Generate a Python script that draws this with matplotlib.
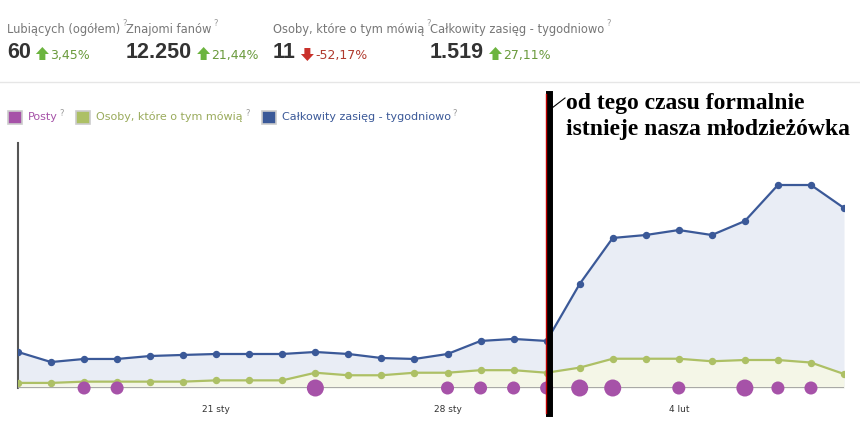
import matplotlib
matplotlib.use('Agg')
import matplotlib.pyplot as plt
from matplotlib.transforms import Affine2D

W, H = 860, 421

# dane z wykresu (15 sty - 9 lut)
zasieg = [304, 219, 245, 245, 270, 279, 287, 287, 287, 304, 287, 253, 245,
          287, 397, 414, 397, 878, 1266, 1291, 1333, 1291, 1409, 1713, 1713, 1519]
mowia = [4, 4, 5, 5, 5, 5, 6, 6, 6, 12, 10, 10, 12,
         12, 14, 14, 12, 16, 23, 23, 23, 21, 22, 22, 20, 11]
posty = [0, 0, 1, 1, 0, 0, 0, 0, 0, 2, 0, 0, 0,
         1, 1, 1, 1, 2, 2, 0, 1, 0, 2, 1, 1, 0]
tick_idx = [6, 13, 20]
tick_labels = ['21 sty', '28 sty', '4 lut']
start_idx = 16.07

kpi_labels = ['Lubiących (ogółem)', 'Znajomi fanów', 'Osoby, które o tym mówią',
              'Całkowity zasięg - tygodniowo']
kpi_values = ['60', '12.250', '11', '1.519']
kpi_changes = [3.45, 21.44, -52.17, 27.11]
kpi_x = [7, 126, 273, 430]

BLUE = '#3b5998'
GREEN = '#adc065'
PURPLE = '#a652a8'

fig = plt.figure(figsize=(W / 100, H / 100), dpi=100)
px = Affine2D().scale(1 / W, -1 / H).translate(0, 1) + fig.transFigure
renderer = fig.canvas.get_renderer()


def put(x, y, s, **kw):
    t = fig.text(x, y, s, transform=px, **kw)
    bb = t.get_window_extent(renderer)
    return bb.x1


def arrow(x0, yc, up, color):
    # strzalka w naglowku, 13x13 px
    d = -1 if up else 1
    pts = [(x0, yc), (x0 + 6.5, yc + 7 * d), (x0 + 13, yc), (x0 + 9.5, yc),
           (x0 + 9.5, yc - 6 * d), (x0 + 3.5, yc - 6 * d), (x0 + 3.5, yc)]
    fig.add_artist(plt.Polygon(pts, closed=True, transform=px,
                               facecolor=color, edgecolor='none'))
    return x0 + 13


# naglowek
for lab, val, ch, x0 in zip(kpi_labels, kpi_values, kpi_changes, kpi_x):
    x1 = put(x0, 29, lab, fontsize=8.3, color='#777777', va='center',
             family='DejaVu Sans')
    put(x1 + 2, 24, '?', fontsize=6, color='#999999', va='center')
    x1 = put(x0, 53, val, fontsize=15.5, fontweight='bold', color='#333333',
             va='center', family='Liberation Sans')
    col = '#6cb43f' if ch > 0 else '#c9312b'
    x1 = arrow(x1 + 5, 54, ch > 0, col)
    txt = f'{ch:.2f}%'.replace('.', ',')
    put(x1 + 1, 55, txt, fontsize=9, color='#6a9a3c' if ch > 0 else '#b03a2e',
        va='center', family='DejaVu Sans')

fig.add_artist(plt.Line2D([0, 1], [1 - 82 / H, 1 - 82 / H],
                          transform=fig.transFigure, color='#e6e6e6', lw=1))

# legenda
leg = [('Posty', PURPLE, PURPLE), ('Osoby, które o tym mówią', GREEN, '#9aab5c'),
       ('Całkowity zasięg - tygodniowo', BLUE, BLUE)]
lx = 8
for name, c, tc in leg:
    fig.add_artist(plt.Rectangle((lx, 111), 14, 13, transform=px, facecolor=c,
                                 edgecolor='#cccccc', lw=1.2))
    x1 = put(lx + 20, 117, name, fontsize=8, color=tc, va='center')
    x1 = put(x1 + 2, 113, '?', fontsize=6, color='#999999', va='center')
    lx = x1 + 12

# wykres
ax = fig.add_axes([18 / W, (H - 388) / H, (844 - 18) / W, (388 - 143) / H])
ax2 = ax.twinx()
x = list(range(len(zasieg)))

ax.fill_between(x, zasieg, 0, color='#e9edf5', lw=0)
ax.plot(x, zasieg, color=BLUE, lw=1.6, marker='o', ms=4.3, zorder=3)
ax.set_ylim(0, 245 * 1519 / 180)

ax2.fill_between(x, mowia, 0, color='#f4f6e7', lw=0)
ax2.plot(x, mowia, color=GREEN, lw=1.6, marker='o', ms=4.3, zorder=3)
ax2.axhline(0, color='#a0a0a0', lw=2, zorder=4)
ax2.set_ylim(0, 245 * 11 / 14)

px_idx = [i for i, p in enumerate(posty) if p > 0]
sizes = [88 if posty[i] == 1 else 150 for i in px_idx]
ax2.scatter(px_idx, [0] * len(px_idx), s=sizes, color=PURPLE, zorder=5,
            clip_on=False, lw=0)

for a in (ax, ax2):
    a.set_xlim(0, 25)
    a.patch.set_visible(False)
    for s in a.spines.values():
        s.set_visible(False)
    a.set_yticks([])
ax.spines['left'].set_visible(True)
ax.spines['left'].set_color('#555555')
ax.spines['left'].set_linewidth(1.5)
ax.set_xticks(tick_idx)
ax.set_xticklabels(tick_labels, fontsize=6.5, color='#333333')
ax.tick_params(axis='x', length=3, color='#dddddd', pad=12, direction='in')
ax2.tick_params(axis='x', bottom=False, labelbottom=False)

# pionowa kreska + podpis
ax2.axvline(start_idx, ymin=-0.1, ymax=1.2, color='black', lw=5,
            clip_on=False, zorder=10)
ax2.axvline(start_idx - 0.075, ymin=-0.1, ymax=1.2, color='#c00000', lw=1,
            clip_on=False, zorder=11)
fig.add_artist(plt.Line2D([552, 565], [108, 98], transform=px, color='black', lw=0.8))
put(566, 104, 'od tego czasu formalnie', fontsize=17, fontweight='bold',
    family='Liberation Serif', va='center', color='black')
put(566, 130, 'istnieje nasza młodzieżówka', fontsize=17, fontweight='bold',
    family='Liberation Serif', va='center', color='black')

fig.savefig('out.png', dpi=100)
